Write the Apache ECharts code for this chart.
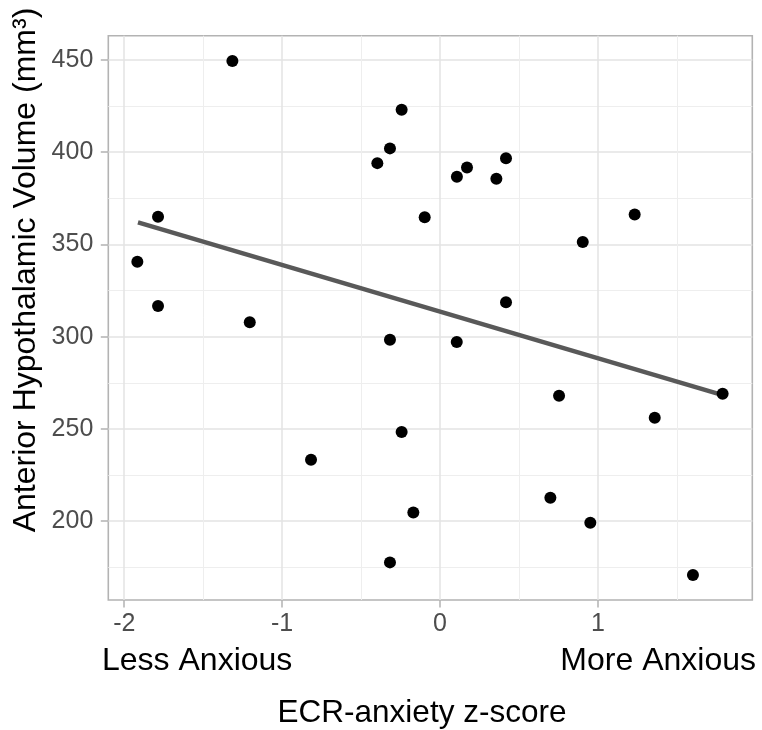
<!DOCTYPE html>
<html lang="en">
<head>
    <meta charset="UTF-8">
    <title>ECR-anxiety vs anterior hypothalamic volume</title>
    <script src="https://cdn.jsdelivr.net/npm/echarts@6/dist/echarts.min.js"></script>
    <style>
        html, body { margin: 0; padding: 0; background: #fff; }
        #chart { width: 762px; height: 730px; }
    </style>
</head>
<body>
    <div id="chart"></div>
<script>
    // tick positions
    var xTicks = [-2, -1, 0, 1];
    var xMinor = [-1.5, -0.5, 0.5, 1.5];
    var yTicks = [200, 250, 300, 350, 400, 450];
    var yMinor = [175, 225, 275, 325, 375, 425];

    // points
    var anxiety = [-1.315, -0.243, -0.317, -0.397, 0.171, 0.107, 0.418, 0.357, -0.097, -1.786,
                   -1.917, -1.786, -1.205, 1.233, 0.904, 0.418, -0.317, 0.106, -0.243, -0.817,
                   -0.169, -0.317, 0.754, 1.790, 1.360, 0.699, 0.952, 1.602];
    var volume = [449.5, 423.0, 402.1, 394.1, 391.7, 386.7, 396.7, 385.6, 364.7, 365.0,
                  340.6, 316.6, 307.8, 366.3, 351.3, 318.6, 298.3, 297.1, 248.3, 233.2,
                  204.7, 177.6, 268.0, 269.1, 256.0, 212.6, 199.1, 170.7];

    // fitted line ends
    var fitX = [-1.913, 1.780];
    var fitY = [362.0, 268.6];

    var font = '"Liberation Sans", Arial, sans-serif';

    var points = anxiety.map(function (x, i) { return [x, volume[i]]; });
    var fit = fitX.map(function (x, i) { return [x, fitY[i]]; });

    var chart = echarts.init(document.getElementById('chart'));
    var option = {
        animation: false,
        backgroundColor: '#fff',
        grid: {
            left: 108.3, right: 9.7, top: 35.7, bottom: 130,
            show: true, borderColor: '#B3B3B3', borderWidth: 1.6, backgroundColor: '#fff'
        },
        xAxis: [{
            type: 'value', position: 'bottom', min: -2.101, max: 1.978,
            axisLine: { show: false, onZero: false },
            axisTick: { show: true, length: 7.5, customValues: xTicks, lineStyle: { color: '#B3B3B3', width: 1.5 } },
            axisLabel: { customValues: xTicks, color: '#4D4D4D', fontSize: 25, fontFamily: font, margin: 12 },
            splitLine: { show: true, lineStyle: { color: '#E3E3E3', width: 1.5 } }
        }, {
            type: 'value', position: 'top', min: -2.101, max: 1.978,
            axisLine: { show: false, onZero: false },
            axisTick: { show: false, customValues: xMinor },
            axisLabel: { show: false, customValues: xMinor },
            splitLine: { show: true, lineStyle: { color: '#EEEEEE', width: 1 } }
        }],
        yAxis: [{
            type: 'value', position: 'left', min: 157.2, max: 463.2,
            axisLine: { show: false, onZero: false },
            axisTick: { show: true, length: 7.5, customValues: yTicks, lineStyle: { color: '#B3B3B3', width: 1.5 } },
            axisLabel: { customValues: yTicks, color: '#4D4D4D', fontSize: 25, fontFamily: font, margin: 15 },
            splitLine: { show: true, lineStyle: { color: '#E3E3E3', width: 1.5 } }
        }, {
            type: 'value', position: 'right', min: 157.2, max: 463.2,
            axisLine: { show: false, onZero: false },
            axisTick: { show: false, customValues: yMinor },
            axisLabel: { show: false, customValues: yMinor },
            splitLine: { show: true, lineStyle: { color: '#EEEEEE', width: 1 } }
        }],
        series: [{
            type: 'line',
            data: fit,
            showSymbol: false,
            silent: true,
            z: 3,
            lineStyle: { color: '#595959', width: 4.5 }
        }, {
            type: 'scatter',
            data: points,
            symbolSize: 12,
            z: 4,
            itemStyle: { color: '#000', opacity: 1 }
        }],
        graphic: [{
            type: 'text', x: 26, y: 270, rotation: Math.PI / 2,
            style: { text: 'Anterior Hypothalamic Volume (mm³)', fontSize: 32, fontFamily: font,
                     fill: '#000', align: 'center', verticalAlign: 'middle' }
        }, {
            type: 'text', x: 422, y: 713,
            style: { text: 'ECR-anxiety z-score', fontSize: 31.5, fontFamily: font,
                     fill: '#000', align: 'center', verticalAlign: 'middle' }
        }, {
            type: 'text', x: 102, y: 661,
            style: { text: 'Less Anxious', fontSize: 32, fontFamily: font,
                     fill: '#000', align: 'left', verticalAlign: 'middle' }
        }, {
            type: 'text', x: 756, y: 661,
            style: { text: 'More Anxious', fontSize: 32, fontFamily: font,
                     fill: '#000', align: 'right', verticalAlign: 'middle' }
        }]
    };
    chart.setOption(option);
</script>
</body>
</html>
